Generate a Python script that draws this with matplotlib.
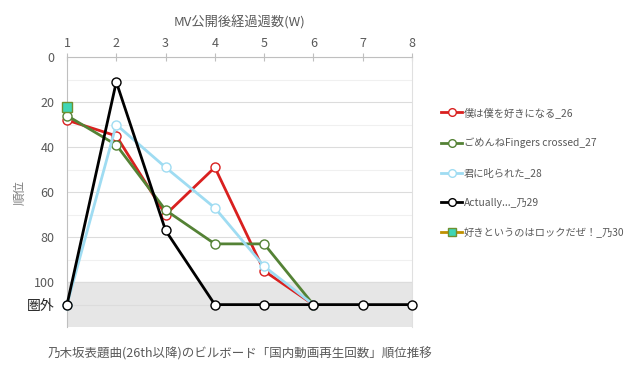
import matplotlib
matplotlib.use("Agg")
from matplotlib import pyplot as plt
from matplotlib.ticker import MultipleLocator

plt.rcParams['font.family'] = ['Noto Sans CJK JP', 'DejaVu Sans']

weeks = [1, 2, 3, 4, 5, 6, 7, 8]
OUT = 110  # 圏外

series_names = ['僕は僕を好きになる_26', 'ごめんねFingers crossed_27', '君に叱られた_28',
                'Actually..._乃29', '好きというのはロックだぜ！_乃30']
s26 = [28, 35, 70, 49, 95, OUT]
s27 = [26, 39, 68, 83, 83, OUT]
s28 = [OUT, 30, 49, 67, 93, OUT]
s29 = [OUT, 11, 77, OUT, OUT, OUT, OUT, OUT]
s30 = [22]

y_ticks = [0, 20, 40, 60, 80, 100, OUT]
y_tick_labels = ['0', '20', '40', '60', '80', '100', '圏外']

gray = '#595959'
fig = plt.figure(figsize=(6.4, 3.76), dpi=100)
ax = fig.add_axes([0.1047, 0.130, 0.539, 0.718])

ax.axhspan(100, 120, color='#e6e6e6', zorder=0)

styles = [('#d9201f', 'o', 'white', '#d9201f'),
          ('#548235', 'o', 'white', '#548235'),
          ('#9fdcf2', 'o', 'white', '#9fdcf2'),
          ('black', 'o', 'white', 'black'),
          ('#bf9000', 's', '#3fd6b5', '#6f8f30')]
data = [s26, s27, s28, s29, s30]
for name, vals, (c, m, fc, ec) in zip(series_names, data, styles):
    ax.plot(weeks[:len(vals)], vals, color=c, lw=2.0, marker=m, ms=6.5,
            mfc=fc, mec=ec, mew=1.0, label=name, zorder=3, clip_on=False)

ax.set_xlim(1, 8)
ax.set_ylim(120, 0)
ax.xaxis.tick_top()
ax.xaxis.set_label_position('top')
ax.set_xticks(weeks)
ax.set_yticks(y_ticks)
ax.set_yticklabels(y_tick_labels)
ax.yaxis.set_minor_locator(MultipleLocator(10))
ax.tick_params(axis='x', direction='inout', length=6, color='#bfbfbf', labelcolor=gray, labelsize=9, pad=2)
ax.tick_params(axis='y', which='both', length=0, labelcolor=gray, labelsize=9, pad=9)
lbl = ax.get_yticklabels()[-1]
lbl.set_color('#262626')
lbl.set_fontsize(10)

ax.grid(axis='y', which='major', color='#dcdcdc', lw=0.8, zorder=1)
ax.grid(axis='y', which='minor', color='#f0f0f0', lw=0.8, zorder=1)
for side in ['top', 'left']:
    ax.spines[side].set_color('#bfbfbf')
ax.spines['right'].set_color('#e0e0e0')
ax.spines['bottom'].set_visible(False)

ax.set_xlabel('MV公開後経過週数(W)', color=gray, fontsize=9.5, labelpad=8)
ax.set_ylabel('順位', color='#7f7f7f', fontsize=9, labelpad=0)

fig.text(0.075, 0.058, '乃木坂表題曲(26th以降)のビルボード「国内動画再生回数」順位推移',
         color=gray, fontsize=9, ha='left', va='center')

leg = fig.legend(loc='upper left', bbox_to_anchor=(0.675, 0.74), frameon=False,
                 fontsize=7.4, labelspacing=1.9, handlelength=2.0, handletextpad=0.2,
                 markerscale=0.85)
for t in leg.get_texts():
    t.set_color(gray)

fig.savefig('out.png', dpi=100)
